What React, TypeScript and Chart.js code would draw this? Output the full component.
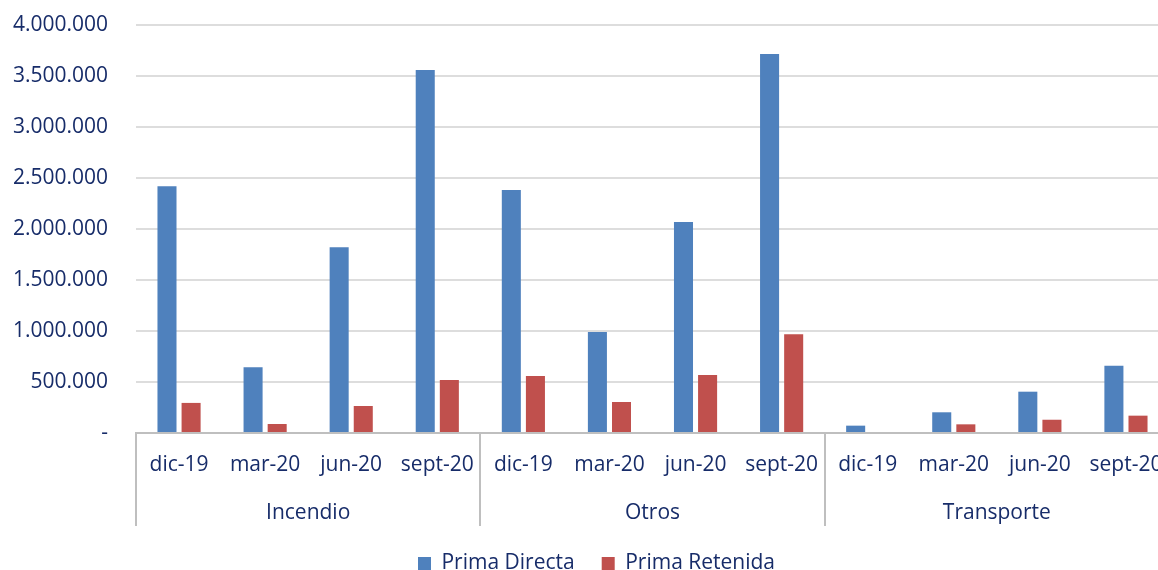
import React, { useEffect, useRef } from "react";
import { Chart, registerables } from "chart.js";

Chart.register(...registerables);

const monthLabels = [
  "dic-19", "mar-20", "jun-20", "sept-20",
  "dic-19", "mar-20", "jun-20", "sept-20",
  "dic-19", "mar-20", "jun-20", "sept-20",
];
const groupLabels = ["Incendio", "Otros", "Transporte"];
const groupSize = 4;
const primaDirecta = [2420000, 645000, 1822000, 3560000, 2382000, 990000, 2068000, 3716000, 72000, 203000, 405000, 660000];
const primaRetenida = [295000, 88000, 265000, 520000, 559000, 304000, 569000, 968000, 10000, 85000, 130000, 170000];
const yMax = 4000000;
const yStep = 500000;

const TEXT = "#172C69";
const FONT = "'Open Sans', sans-serif";

function fmt(v: number): string {
  if (v === 0) return "-";
  return String(Math.round(v)).replace(/\B(?=(\d{3})+(?!\d))/g, ".");
}

const groupSeparators = {
  id: "groupSeparators",
  afterDraw(chart: any) {
    const xs = chart.scales.x;
    const x2 = chart.scales.x2;
    const n = xs.ticks.length;
    const step = (xs.right - xs.left) / n;
    const ctx = chart.ctx;
    ctx.save();
    ctx.strokeStyle = "#BFBFBF";
    ctx.lineWidth = 2;
    for (let i = 0; i <= n; i += groupSize) {
      const px = Math.round(xs.left + i * step);
      ctx.beginPath();
      ctx.moveTo(px, xs.top);
      ctx.lineTo(px, x2.bottom);
      ctx.stroke();
    }
    ctx.restore();
  },
};

const legendShift = {
  id: "legendShift",
  afterLayout(chart: any) {
    const lg = chart.legend;
    if (lg) {
      lg.left += 8;
      lg.right += 8;
    }
  },
};

function noPad(scale: any) {
  scale.paddingLeft = 0;
  scale.paddingRight = 0;
  scale.paddingTop = 0;
  scale.paddingBottom = 0;
}

export default function App() {
  const ref = useRef<HTMLCanvasElement | null>(null);
  useEffect(() => {
    if (!ref.current) return;
    const chart = new Chart(ref.current, {
      type: "bar",
      data: {
        labels: monthLabels,
        datasets: [
          {
            label: "Prima Directa",
            data: primaDirecta,
            backgroundColor: "#4F81BD",
            categoryPercentage: 0.56,
            barPercentage: 0.79,
            xAxisID: "x",
          },
          {
            label: "Prima Retenida",
            data: primaRetenida,
            backgroundColor: "#C0504D",
            categoryPercentage: 0.56,
            barPercentage: 0.79,
            xAxisID: "x",
          },
        ],
      },
      options: {
        responsive: true,
        maintainAspectRatio: false,
        animation: false,
        events: [],
        layout: { padding: { left: 8, top: 25, right: 0, bottom: 0 } },
        font: { family: FONT, size: 21 },
        plugins: {
          tooltip: { enabled: false },
          legend: {
            position: "bottom",
            labels: {
              color: TEXT,
              font: { family: FONT, size: 21 },
              boxWidth: 13,
              boxHeight: 13,
              padding: 27,
            },
          },
        },
        scales: {
          x: {
            type: "category",
            position: "bottom",
            weight: 0,
            offset: true,
            grid: { display: false, drawTicks: false },
            border: { display: true, color: "#BFBFBF", width: 2 },
            ticks: {
              color: TEXT,
              font: { family: FONT, size: 21 },
              autoSkip: false,
              maxRotation: 0,
              minRotation: 0,
              padding: 19,
            },
            afterFit: (scale: any) => {
              noPad(scale);
              scale.height = 60;
            },
          },
          x2: {
            type: "category",
            position: "bottom",
            weight: 1,
            labels: groupLabels,
            offset: true,
            grid: { display: false, drawTicks: false },
            border: { display: false },
            ticks: {
              color: TEXT,
              font: { family: FONT, size: 21 },
              autoSkip: false,
              maxRotation: 0,
              padding: 7,
            },
            afterFit: (scale: any) => {
              noPad(scale);
              scale.height = 33;
            },
          },
          y: {
            min: 0,
            max: yMax,
            border: { display: false },
            grid: { color: "#DDDDDD", lineWidth: 2, drawTicks: false },
            ticks: {
              stepSize: yStep,
              color: TEXT,
              font: { family: FONT, size: 21 },
              padding: 28,
              callback: (v: any) => fmt(Number(v)),
            },
            afterFit: (scale: any) => {
              noPad(scale);
              scale.width = 128;
            },
          },
        },
      } as any,
      plugins: [groupSeparators, legendShift],
    });
    return () => chart.destroy();
  }, []);

  return (
    <div
      style={{
        position: "fixed",
        left: 0,
        top: 0,
        width: 1158,
        height: 570,
        overflow: "hidden",
        background: "#ffffff",
      }}
    >
      <div style={{ position: "relative", width: 1169, height: 584 }}>
        <canvas ref={ref} />
      </div>
    </div>
  );
}
